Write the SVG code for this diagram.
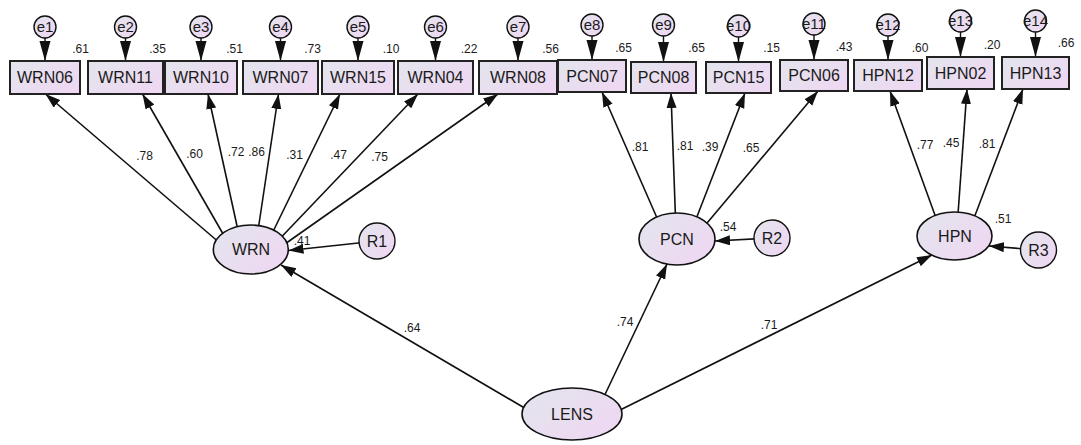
<svg xmlns="http://www.w3.org/2000/svg" width="1081" height="445" viewBox="0 0 1081 445">
  <style>
    text { font-family: "Liberation Sans", Arial, sans-serif; fill: #1a1a1a; }
    .obs { fill: url(#shade); stroke: #222; stroke-width: 2; }
    .lat { fill: url(#shade); stroke: #111; stroke-width: 1.6; }
    .err { fill: url(#shade); stroke: #111; stroke-width: 1.4; }
    .name { font-size: 16px; text-anchor: middle; }
    .ename { font-size: 15px; text-anchor: middle; }
    .val { font-size: 12px; text-anchor: middle; }
    .path { fill: none; stroke: #111; stroke-width: 1.6; marker-end: url(#head); }
    .epath { fill: none; stroke: #111; stroke-width: 1.4; marker-end: url(#ehead); }
  </style>
  <defs>
    <linearGradient id="shade" x1="0" y1="0" x2="1" y2="0.7">
      <stop offset="0" stop-color="#e3e5ed"/>
      <stop offset="1" stop-color="#eed8f2"/>
    </linearGradient>
    <marker id="head" markerUnits="userSpaceOnUse" markerWidth="16" markerHeight="12" refX="15" refY="5" orient="auto">
      <path d="M0,0 L15,5 L0,10 z" fill="#111"/>
    </marker>
    <marker id="ehead" markerUnits="userSpaceOnUse" markerWidth="22" markerHeight="12" refX="20" refY="5.5" orient="auto">
      <path d="M0,0 L20,5.5 L0,11 z" fill="#111"/>
    </marker>
  </defs>

  <!-- connectors: drawn first so that node shapes cover the line ends -->
  <g id="connectors">
    <!-- WRN loadings -->
    <line class="path" x1="228" y1="250" x2="45.5" y2="94"/>
    <line class="path" x1="230" y1="246" x2="142.5" y2="94"/>
    <line class="path" x1="241" y1="244" x2="208" y2="94"/>
    <line class="path" x1="256" y1="244" x2="278.5" y2="94"/>
    <line class="path" x1="266" y1="246" x2="340" y2="94"/>
    <line class="path" x1="270" y1="249" x2="418" y2="94"/>
    <line class="path" x1="275" y1="251" x2="498" y2="94"/>
    <!-- PCN loadings -->
    <line class="path" x1="664" y1="234" x2="602" y2="92"/>
    <line class="path" x1="676" y1="232" x2="671" y2="93"/>
    <line class="path" x1="691" y1="232" x2="745" y2="93"/>
    <line class="path" x1="697" y1="235" x2="818" y2="91"/>
    <!-- HPN loadings -->
    <line class="path" x1="940" y1="229" x2="890" y2="91"/>
    <line class="path" x1="957" y1="228" x2="967" y2="89"/>
    <line class="path" x1="971" y1="226" x2="1023" y2="89"/>
    <!-- residual terms -->
    <line class="path" x1="377" y1="241" x2="288.5" y2="250.5"/>
    <line class="path" x1="772" y1="238" x2="715" y2="241"/>
    <line class="path" x1="1038" y1="250" x2="989" y2="246"/>
    <!-- second-order paths -->
    <line class="path" x1="545" y1="420" x2="281" y2="265"/>
    <line class="path" x1="600" y1="405" x2="667" y2="264"/>
    <line class="path" x1="600" y1="420" x2="932" y2="255"/>
    <!-- error terms -->
    <line class="epath" x1="45" y1="37" x2="45" y2="61"/>
    <line class="epath" x1="125.5" y1="37" x2="125.5" y2="61"/>
    <line class="epath" x1="201" y1="37" x2="201" y2="61"/>
    <line class="epath" x1="280.5" y1="37" x2="280.5" y2="61"/>
    <line class="epath" x1="358" y1="37" x2="358" y2="61"/>
    <line class="epath" x1="435.5" y1="37" x2="435.5" y2="61"/>
    <line class="epath" x1="518" y1="37" x2="518" y2="61"/>
    <line class="epath" x1="592" y1="35" x2="592" y2="60"/>
    <line class="epath" x1="663.5" y1="35" x2="663.5" y2="62"/>
    <line class="epath" x1="738.5" y1="36" x2="738.5" y2="62"/>
    <line class="epath" x1="814" y1="34" x2="814" y2="60"/>
    <line class="epath" x1="888" y1="35" x2="888" y2="60"/>
    <line class="epath" x1="960.5" y1="31" x2="960.5" y2="57"/>
    <line class="epath" x1="1035.5" y1="31" x2="1035.5" y2="57"/>
  </g>

  <!-- coefficient labels -->
  <g id="labels">
    <text class="val" x="144.5" y="160">.78</text>
    <text class="val" x="194.5" y="158">.60</text>
    <text class="val" x="236" y="156">.72</text>
    <text class="val" x="256.5" y="156">.86</text>
    <text class="val" x="294.5" y="159">.31</text>
    <text class="val" x="338.5" y="159">.47</text>
    <text class="val" x="379.5" y="161">.75</text>
    <text class="val" x="640" y="151">.81</text>
    <text class="val" x="685" y="150">.81</text>
    <text class="val" x="710" y="151">.39</text>
    <text class="val" x="751" y="152">.65</text>
    <text class="val" x="925" y="149">.77</text>
    <text class="val" x="951" y="147">.45</text>
    <text class="val" x="987" y="147.5">.81</text>
    <text class="val" x="302" y="245">.41</text>
    <text class="val" x="728" y="231">.54</text>
    <text class="val" x="1003" y="223">.51</text>
    <text class="val" x="412" y="332">.64</text>
    <text class="val" x="625" y="326">.74</text>
    <text class="val" x="769" y="329">.71</text>
    <text class="val" x="80.5" y="53">.61</text>
    <text class="val" x="157.5" y="53">.35</text>
    <text class="val" x="234.5" y="53">.51</text>
    <text class="val" x="312.5" y="53">.73</text>
    <text class="val" x="391" y="53">.10</text>
    <text class="val" x="469" y="53">.22</text>
    <text class="val" x="550.5" y="53">.56</text>
    <text class="val" x="623.5" y="52">.65</text>
    <text class="val" x="696.5" y="52">.65</text>
    <text class="val" x="771.5" y="52">.15</text>
    <text class="val" x="844" y="51">.43</text>
    <text class="val" x="920" y="52">.60</text>
    <text class="val" x="992" y="49">.20</text>
    <text class="val" x="1066" y="47">.66</text>
  </g>

  <!-- observed indicators -->
  <g id="WRN06"><rect class="obs" x="10" y="61" width="70" height="33"/><text class="name" x="45" y="83">WRN06</text></g>
  <g id="WRN11"><rect class="obs" x="88" y="61" width="75" height="33"/><text class="name" x="125.5" y="83">WRN11</text></g>
  <g id="WRN10"><rect class="obs" x="165" y="61" width="72" height="33"/><text class="name" x="201" y="83">WRN10</text></g>
  <g id="WRN07"><rect class="obs" x="243" y="61" width="75" height="33"/><text class="name" x="280.5" y="83">WRN07</text></g>
  <g id="WRN15"><rect class="obs" x="322" y="61" width="72" height="33"/><text class="name" x="358" y="83">WRN15</text></g>
  <g id="WRN04"><rect class="obs" x="398" y="61" width="75" height="33"/><text class="name" x="435.5" y="83">WRN04</text></g>
  <g id="WRN08"><rect class="obs" x="479" y="61" width="78" height="33"/><text class="name" x="518" y="83">WRN08</text></g>
  <g id="PCN07"><rect class="obs" x="558" y="60" width="68" height="32"/><text class="name" x="592" y="81.5">PCN07</text></g>
  <g id="PCN08"><rect class="obs" x="631" y="62" width="65" height="31"/><text class="name" x="663.5" y="83">PCN08</text></g>
  <g id="PCN15"><rect class="obs" x="706" y="62" width="65" height="31"/><text class="name" x="738.5" y="83">PCN15</text></g>
  <g id="PCN06"><rect class="obs" x="780" y="60" width="68" height="31"/><text class="name" x="814" y="81">PCN06</text></g>
  <g id="HPN12"><rect class="obs" x="854" y="60" width="68" height="31"/><text class="name" x="888" y="81">HPN12</text></g>
  <g id="HPN02"><rect class="obs" x="927" y="57" width="67" height="32"/><text class="name" x="960.5" y="78.5">HPN02</text></g>
  <g id="HPN13"><rect class="obs" x="1002" y="57" width="67" height="32"/><text class="name" x="1035.5" y="78.5">HPN13</text></g>

  <!-- error terms -->
  <g id="e1"><circle class="err" cx="45" cy="27" r="11"/><text class="ename" x="45" y="32">e1</text></g>
  <g id="e2"><circle class="err" cx="125.5" cy="27" r="11"/><text class="ename" x="125.5" y="32">e2</text></g>
  <g id="e3"><circle class="err" cx="201" cy="27" r="11"/><text class="ename" x="201" y="32">e3</text></g>
  <g id="e4"><circle class="err" cx="280.5" cy="27" r="11"/><text class="ename" x="280.5" y="32">e4</text></g>
  <g id="e5"><circle class="err" cx="358" cy="27" r="11"/><text class="ename" x="358" y="32">e5</text></g>
  <g id="e6"><circle class="err" cx="435.5" cy="27" r="11"/><text class="ename" x="435.5" y="32">e6</text></g>
  <g id="e7"><circle class="err" cx="518" cy="27" r="11"/><text class="ename" x="518" y="32">e7</text></g>
  <g id="e8"><circle class="err" cx="592" cy="25" r="11"/><text class="ename" x="592" y="30">e8</text></g>
  <g id="e9"><circle class="err" cx="663.5" cy="25" r="11"/><text class="ename" x="663.5" y="30">e9</text></g>
  <g id="e10"><circle class="err" cx="738.5" cy="26" r="11"/><text class="ename" x="738.5" y="31">e10</text></g>
  <g id="e11"><circle class="err" cx="814" cy="24" r="11"/><text class="ename" x="814" y="29">e11</text></g>
  <g id="e12"><circle class="err" cx="888" cy="25" r="11"/><text class="ename" x="888" y="30">e12</text></g>
  <g id="e13"><circle class="err" cx="960.5" cy="21" r="11"/><text class="ename" x="960.5" y="26">e13</text></g>
  <g id="e14"><circle class="err" cx="1035.5" cy="21" r="11"/><text class="ename" x="1035.5" y="26">e14</text></g>

  <!-- latent factors -->
  <g id="WRN"><ellipse class="lat" cx="250.8" cy="249.5" rx="37.5" ry="24.5"/><text class="name" x="251" y="255">WRN</text></g>
  <g id="PCN"><ellipse class="lat" cx="677" cy="239" rx="38" ry="26"/><text class="name" x="677" y="245">PCN</text></g>
  <g id="HPN"><ellipse class="lat" cx="954.5" cy="236" rx="37.5" ry="24"/><text class="name" x="955" y="242">HPN</text></g>
  <g id="LENS"><ellipse class="lat" cx="572" cy="414" rx="50" ry="26"/><text class="name" x="572" y="420">LENS</text></g>

  <!-- residuals -->
  <g id="R1"><circle class="err" cx="377" cy="241" r="18"/><text class="name" x="377" y="247">R1</text></g>
  <g id="R2"><circle class="err" cx="772" cy="238" r="18"/><text class="name" x="772" y="244">R2</text></g>
  <g id="R3"><circle class="err" cx="1038.5" cy="250" r="18"/><text class="name" x="1038.5" y="256">R3</text></g>
</svg>
